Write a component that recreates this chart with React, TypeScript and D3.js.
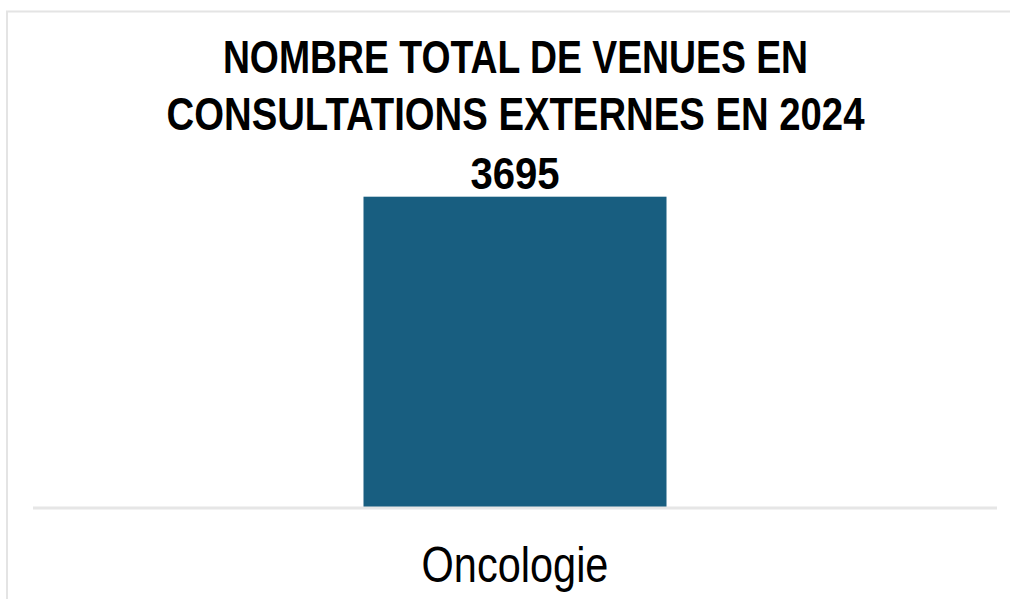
import React from "react";
import * as d3 from "d3";

const categories: string[] = ["Oncologie"];
const values: number[] = [3695];
const titleLines: string[] = ["NOMBRE TOTAL DE VENUES EN", "CONSULTATIONS EXTERNES EN 2024"];

const W = 1010;
const H = 599;
const FONT = "'Liberation Sans', Arial, sans-serif";

// horizontally condensed text, as in the reference
function Squeezed(props: {
  x: number;
  y: number;
  k: number;
  size: number;
  bold?: boolean;
  children: React.ReactNode;
}) {
  const { x, y, k, size, bold, children } = props;
  return (
    <text
      transform={`translate(${x},${y}) scale(${k},1)`}
      textAnchor="middle"
      fontFamily={FONT}
      fontWeight={bold ? "bold" : "normal"}
      fontSize={size}
      fill="#000"
    >
      {children}
    </text>
  );
}

export default function App() {
  const x = d3.scaleBand<string>().domain(categories).range([33, 997]).padding(0.5217);
  const y = d3.scaleLinear().domain([0, 4000]).range([508, 171]);
  const cx = (W + 21) / 2;
  const titleK = [0.795, 0.815];

  return (
    <svg
      width={W}
      height={H}
      style={{ position: "absolute", left: 0, top: 0, background: "#fff" }}
    >
      {/* frame shadow (top + left) */}
      <line x1={6} y1={11.5} x2={W} y2={11.5} stroke="#e4e4e4" strokeWidth={2} />
      <line x1={7} y1={11} x2={7} y2={H} stroke="#e4e4e4" strokeWidth={2} />

      {titleLines.map((t, i) => (
        <Squeezed key={i} x={cx} y={73 + i * 57} k={titleK[i]} size={47} bold>
          {t}
        </Squeezed>
      ))}

      {categories.map((c, i) => {
        const mid = (x(c) as number) + x.bandwidth() / 2;
        return (
          <g key={c}>
            <rect
              x={x(c)}
              y={y(values[i])}
              width={x.bandwidth()}
              height={y(0) - y(values[i])}
              fill="#185e80"
            />
            <Squeezed x={mid} y={y(values[i]) - 8} k={0.89} size={45} bold>
              {values[i]}
            </Squeezed>
            <Squeezed x={mid} y={582} k={0.83} size={50}>
              {c}
            </Squeezed>
          </g>
        );
      })}

      {/* baseline */}
      <line x1={33} y1={y(0)} x2={997} y2={y(0)} stroke="#e6e6e6" strokeWidth={3} />
    </svg>
  );
}
